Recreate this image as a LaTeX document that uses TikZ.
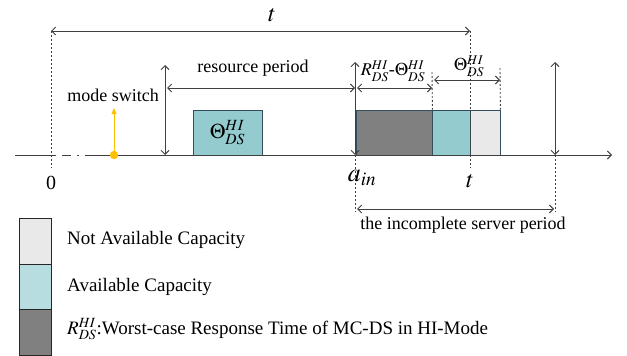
\documentclass[tikz,border=0pt]{standalone}
\usepackage{mathptmx}
\usepackage{fontspec}
\setmainfont{Liberation Serif}
\usetikzlibrary{arrows.meta}
\definecolor{tealc}{HTML}{94CBCF}
\definecolor{teall}{HTML}{B7DDE0}
\definecolor{darkc}{HTML}{808080}
\definecolor{lightc}{HTML}{E9E9E9}
\definecolor{edgec}{HTML}{344D5C}
\definecolor{linec}{HTML}{404040}
\definecolor{orangec}{HTML}{FFC000}
\begin{document}
\begin{tikzpicture}[x=1pt,y=-1pt,
  ln/.style={draw=linec, line width=0.9pt},
  arr/.style={ln, -{Straight Barb[length=4pt,width=8pt]}},
  darr/.style={ln, {Straight Barb[length=4pt,width=8pt]}-{Straight Barb[length=4pt,width=8pt]}},
  dotl/.style={draw=linec, line width=0.9pt, dash pattern=on 2pt off 2pt},
  lbl/.style={font=\fontsize{18}{20}\selectfont, inner sep=1pt},
  leg/.style={font=\fontsize{19}{21}\selectfont, inner sep=1pt, anchor=west},
  cbox/.style={draw=edgec, line width=0.8pt, inner sep=0pt},
  lbox/.style={draw=black!85, line width=0.9pt, inner sep=0pt, minimum width=32pt}]
\useasboundingbox (0,0) rectangle (627,356);
% axis
\coordinate (axL) at (15,155);
\coordinate (axA) at (54,155);
\coordinate (axB) at (88,155);
\coordinate (axR) at (612,155);
% boxes
\node[cbox, fill=tealc, minimum width=69pt, minimum height=45pt] (th1) at (227.5,132.5) {\fontsize{21}{23}\selectfont$\Theta^{HI}_{DS}$};
\node[cbox, fill=darkc, minimum width=76pt, minimum height=45pt] (rb) at (394,132.5) {};
\node[cbox, fill=tealc, minimum width=38pt, minimum height=45pt] (ab) at (451,132.5) {};
\node[cbox, fill=lightc, minimum width=30pt, minimum height=45pt] (nb) at (485,132.5) {};
\draw[ln] (axL) -- (axA);
\draw[ln, dash pattern=on 2pt off 6pt on 9pt off 6pt] (axA) -- (axB);
\draw[arr] (axB) -- (axR);
% top t arrow
\coordinate (t0) at (51,31);
\coordinate (t1) at (470,31);
\coordinate (t0b) at (51,168);
\coordinate (t1b) at (470,168);
\draw[darr] (t0) -- (t1);
\node[lbl, font=\fontsize{24}{26}\selectfont] (tlab) at (272,15) {$t$};
\draw[dotl] (t0) -- (t0b);
\draw[dotl] (t1) -- (t1b);
\node[lbl, font=\fontsize{20}{22}\selectfont] (zero) at (51,183) {0};
\node[lbl, font=\fontsize{24}{26}\selectfont] (tlab2) at (470,181) {$t$};
% mode switch
\coordinate (ms) at (114,155);
\coordinate (msT) at (114,108);
\draw[draw=orangec, line width=1pt, -{Triangle[length=6pt,width=5pt]}] (ms) -- (msT);
\fill[orangec] (ms) circle (4.2pt);
\node[lbl] (mslab) at (113,95) {mode switch};
% resource period
\coordinate (rpT) at (165,65);
\coordinate (rpB) at (165,155);
\draw[darr] (rpT) -- (rpB);
\coordinate (rpL) at (167,88);
\coordinate (rpR) at (355,88);
\draw[darr] (rpL) -- (rpR);
\node[lbl] (rplab) at (253,68) {resource period};
% a_in
\coordinate (aT) at (355,62);
\coordinate (aB) at (355,155);
\coordinate (aD) at (355,212);
\draw[darr] (aB) -- (aT);
\draw[dotl] (aB) -- (aD);
\node[lbl, font=\fontsize{26}{28}\selectfont] (alab) at (362,178) {$a_{in}$};
% right vertical
\coordinate (eT) at (555,62);
\coordinate (eB) at (555,155);
\coordinate (eD) at (555,212);
\draw[darr] (eB) -- (eT);
\draw[dotl] (eB) -- (eD);
% R - Theta
\coordinate (d1T) at (432,72);
\coordinate (d2T) at (500,68);
\draw[dotl] (d1T) -- (rb.north east);
\draw[dotl] (d2T) -- (nb.north east);
\coordinate (r1) at (357,88);
\coordinate (r2) at (432,88);
\draw[darr] (r1) -- (r2);
\node[lbl] (rlab) at (393,71) {$R^{HI}_{DS}$-$\Theta^{HI}_{DS}$};
\coordinate (q1) at (434,80);
\coordinate (q2) at (500,80);
\draw[darr] (q1) -- (q2);
\node[lbl] (qlab) at (469,66) {$\Theta^{HI}_{DS}$};
% incomplete server period
\coordinate (i1) at (357,209);
\coordinate (i2) at (554,209);
\draw[darr] (i1) -- (i2);
\node[lbl] (ilab) at (463,225) {the incomplete server period};
% legend
\node[lbox, fill=lightc, minimum height=46pt] (lg1) at (35,241) {};
\node[lbox, fill=teall, minimum height=45pt] (lg2) at (35,286.5) {};
\node[lbox, fill=darkc, minimum height=46pt] (lg3) at (35,332) {};
\node[leg] (lt1) at (66,240) {Not Available Capacity};
\node[leg] (lt2) at (66,287) {Available Capacity};
\node[leg] (lt3) at (66,329) {$R^{HI}_{DS}$:Worst-case Response Time of MC-DS in HI-Mode};
\end{tikzpicture}
\end{document}
